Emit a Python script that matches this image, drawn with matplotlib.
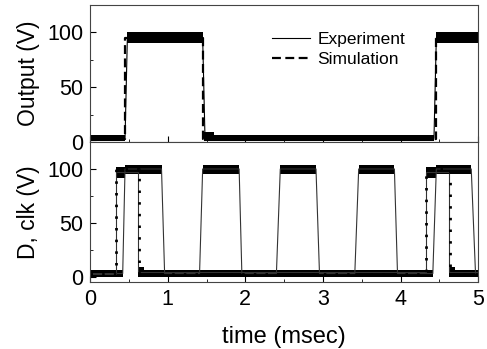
import matplotlib
matplotlib.use("Agg")
import matplotlib.pyplot as plt
from matplotlib.ticker import MultipleLocator

plt.rcParams['font.family'] = ['Liberation Sans', 'DejaVu Sans']

# ---- top panel: output ----
out_t = [0, 0.45, 0.48, 1.45, 1.48, 4.43, 4.46, 5.0]
out_v = [3, 3, 95, 95, 4, 4, 95, 95]
out_sim_t = [0, 0.45, 0.45, 1.45, 1.45, 4.45, 4.45, 5.0]
out_sim_v = [3, 3, 95, 95, 3, 3, 95, 95]
# noise bands (start, end, low, high)
out_bands = [(0, 0.45, 1, 6), (0.47, 1.45, 90, 100), (1.47, 1.6, 1, 9),
             (1.6, 4.43, 1, 6), (4.46, 5.0, 90, 100)]

# ---- bottom panel: D and clk ----
clk_t = [0, 0.42, 0.45, 0.92, 0.96, 1.41, 1.45, 1.92, 1.955, 2.40, 2.45,
         2.91, 2.955, 3.41, 3.46, 3.92, 3.96, 4.415, 4.46, 4.91, 4.965, 5.0]
clk_v = [3, 3, 100, 100, 3, 3, 100, 100, 3, 3, 100,
         100, 3, 3, 100, 100, 3, 3, 100, 100, 3, 3]
d_t = [0, 0.33, 0.33, 0.62, 0.62, 4.33, 4.33, 4.62, 4.62, 5.0]
d_v = [3, 3, 97, 97, 4, 4, 97, 97, 4, 4]
d_sim_t = [0, 0.33, 0.33, 0.63, 0.63, 4.33, 4.33, 4.63, 4.63, 5.0]
d_sim_v = [3, 3, 100, 100, 3, 3, 100, 100, 3, 3]
dc_bands = [(0, 0.42, 0, 6), (0.33, 0.45, 92, 102), (0.45, 0.92, 95, 104),
            (0.62, 0.7, 0, 9), (0.7, 4.42, 0, 6), (1.45, 1.92, 95, 104),
            (2.45, 2.91, 95, 104), (3.46, 3.92, 95, 104),
            (4.33, 4.45, 92, 102), (4.45, 4.91, 95, 104),
            (4.62, 4.7, 0, 9), (4.7, 5.0, 0, 6)]

fig = plt.figure(figsize=(4.87, 3.49), dpi=100)
ax1 = fig.add_axes([0.185, 0.593, 0.797, 0.393])
ax2 = fig.add_axes([0.185, 0.193, 0.797, 0.400])

for (a, b, lo, hi) in out_bands:
    ax1.fill_between([a, b], [lo, lo], [hi, hi], color='black', lw=0)
ax1.plot(out_t, out_v, color='black', lw=0.8, label='Experiment')
ax1.plot(out_sim_t, out_sim_v, color='black', lw=1.6,
         linestyle=(0, (4, 2)), label='Simulation')

for (a, b, lo, hi) in dc_bands:
    ax2.fill_between([a, b], [lo, lo], [hi, hi], color='black', lw=0)
ax2.plot(clk_t, clk_v, color='#333333', lw=0.8)
ax2.plot(d_t, d_v, color='#333333', lw=0.8)
ax2.plot(d_sim_t, d_sim_v, color='black', lw=2.0, linestyle=(0, (0.9, 3.3)))

ax1.set_ylim(0, 125)
ax2.set_ylim(-4.5, 125)
for ax in (ax1, ax2):
    ax.set_xlim(0, 5)
    ax.yaxis.set_major_locator(MultipleLocator(50))
    ax.yaxis.set_minor_locator(MultipleLocator(25))
    ax.xaxis.set_major_locator(MultipleLocator(1))
    ax.xaxis.set_minor_locator(MultipleLocator(0.5))
    ax.tick_params(which='both', direction='in', labelsize=15.5, pad=5)
    ax.tick_params(which='major', length=4)
    ax.tick_params(which='minor', length=2.5)
    for s in ax.spines.values():
        s.set_color('#444444')
ax1.tick_params(labelbottom=False)

ax1.set_ylabel('Output (V)', fontsize=16.5)
ax2.set_ylabel('D, clk (V)', fontsize=16.5)
ax2.set_xlabel('time (msec)', fontsize=17, labelpad=12)
ax1.yaxis.set_label_coords(-0.13, 0.5)
ax2.yaxis.set_label_coords(-0.13, 0.5)

ax1.legend(loc='upper left', bbox_to_anchor=(0.469, 0.80), frameon=False,
           fontsize=12.5, handlelength=2.2, handletextpad=0.4,
           labelspacing=0.25, borderpad=0, borderaxespad=0)

fig.savefig('out.png', dpi=100)
